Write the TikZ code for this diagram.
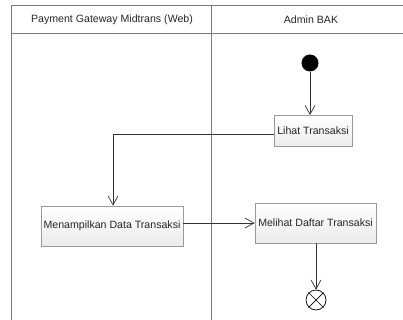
\documentclass[tikz,border=0pt]{standalone}
\usepackage{fontspec}
\setmainfont{Liberation Sans}
\usetikzlibrary{arrows.meta}
\definecolor{lanegray}{HTML}{7A7A7A}
\definecolor{boxborder}{HTML}{9A9A9A}
\definecolor{flowline}{HTML}{333333}
\begin{document}
\begin{tikzpicture}[x=1pt,y=-1pt,
  lane/.style={draw=lanegray,line width=1pt},
  action/.style={draw=boxborder,line width=0.8pt,top color=white,bottom color=black!8,inner sep=0pt,font=\fontsize{10.6}{12}\selectfont,text=black!85},
  flow/.style={draw=flowline,line width=0.7pt,-{Straight Barb[length=9pt,width=10pt,line width=0.7pt]}},
  hdr/.style={font=\fontsize{10.6}{12}\selectfont,text=black!85}]
\useasboundingbox (0,0) rectangle (403,320);
% swimlanes
\draw[lane] (11,320) -- (11,6) -- (410,6);
\draw[lane] (11,34) -- (410,34);
\draw[lane] (211,6) -- (211,320);
\node[hdr] (h1) at (112,20) {Payment Gateway Midtrans (Web)};
\node[hdr] (h2) at (311,20) {Admin BAK};
% nodes
\node[circle,fill=black,minimum size=17pt,inner sep=0pt] (start) at (310,63) {};
\node[action,minimum width=78pt,minimum height=31pt] (lihat) at (313,131) {Lihat Transaksi};
\node[action,minimum width=142pt,minimum height=40pt] (tampil) at (112,226) {Menampilkan Data Transaksi};
\node[action,minimum width=121pt,minimum height=40pt] (daftar) at (315.5,223) {Melihat Daftar Transaksi};
\node[circle,draw=black,line width=0.7pt,minimum size=20pt,inner sep=0pt] (end) at (316,300) {};
\draw[black,line width=0.7pt] (end.north east) -- (end.south west) (end.north west) -- (end.south east);
% flows
\draw[flow] (start) -- (start |- lihat.north);
\coordinate (bend) at (113,134);
\draw[flow] (lihat.west |- bend) -- (bend) -- (bend |- tampil.north);
\draw[flow] (tampil.east |- daftar) -- (daftar.west);
\draw[flow] (daftar.south -| end) -- (end.north);
\end{tikzpicture}
\end{document}
